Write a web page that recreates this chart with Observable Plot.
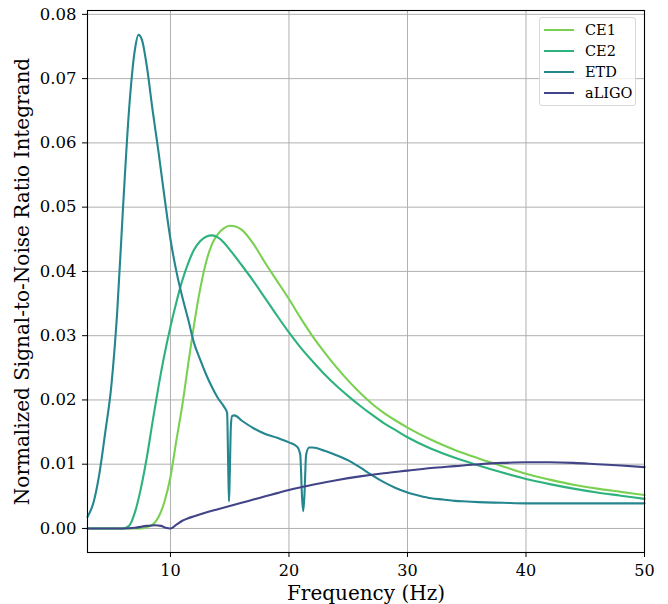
<!DOCTYPE html>
<html>
<head>
<meta charset="utf-8">
<script src="https://cdn.jsdelivr.net/npm/d3@7"></script>
<script src="https://cdn.jsdelivr.net/npm/@observablehq/plot@0.6"></script>
<style>
  html, body { margin: 0; padding: 0; background: #fff; }
  #wrap { position: relative; width: 668px; height: 604px; }
  #legend { position: absolute; left: 539px; top: 17px; width: 97px; height: 89px;
    border: 1px solid #d8d8d8; border-radius: 3px; background: rgba(255,255,255,0.8);
    font-family: "DejaVu Serif", serif; font-size: 14.5px; color: #000; box-sizing: border-box; }
  .item { position: absolute; left: 4px; height: 20px; display: flex; align-items: center; }
  .sw { width: 30px; height: 2px; margin-right: 11px; }
  svg text { font-family: "DejaVu Serif", serif; }
</style>
</head>
<body>
<div id="wrap"><div id="legend"></div></div>
<script>
const seriesNames = ["CE1", "CE2", "ETD", "aLIGO"];
const seriesColors = ["#7ad151", "#2db27d", "#24868e", "#414487"];

const ce1F = [3, 6, 7.5, 8, 8.5, 9, 9.5, 10, 10.5, 11, 11.5, 12, 12.5, 13, 13.5, 14, 14.5, 15, 15.5, 16, 17, 18, 19, 20, 21, 22, 23, 24, 25, 26, 27, 28, 29, 30, 32, 34, 36, 38, 40, 42, 44, 46, 48, 50];
const ce1V = [0, 0, 0.0000, 0.0002, 0.0006, 0.0018, 0.0042, 0.0080, 0.0137, 0.0192, 0.0256, 0.0318, 0.0372, 0.0414, 0.0442, 0.0458, 0.0467, 0.0471, 0.0470, 0.0465, 0.0443, 0.0413, 0.0385, 0.0357, 0.0327, 0.0299, 0.0274, 0.0251, 0.0230, 0.0211, 0.0194, 0.0180, 0.0168, 0.0157, 0.0138, 0.0122, 0.0109, 0.0097, 0.0085, 0.0076, 0.0068, 0.0062, 0.0057, 0.0052];

const ce2F = [3, 5.5, 6, 6.5, 7, 7.5, 8, 8.5, 9, 9.5, 10, 10.5, 11, 11.5, 12, 12.5, 13, 13.5, 14, 14.5, 15, 16, 17, 18, 19, 20, 21, 22, 23, 24, 25, 26, 27, 28, 29, 30, 32, 34, 36, 38, 40, 42, 44, 46, 48, 50];
const ce2V = [0, 0, 0.0000, 0.0004, 0.0025, 0.0062, 0.0110, 0.0167, 0.0222, 0.0271, 0.0314, 0.0352, 0.0386, 0.0413, 0.0434, 0.0447, 0.0454, 0.0456, 0.0453, 0.0445, 0.0434, 0.0410, 0.0385, 0.0358, 0.0331, 0.0305, 0.0281, 0.0260, 0.0240, 0.0222, 0.0206, 0.0191, 0.0177, 0.0164, 0.0153, 0.0142, 0.0124, 0.0110, 0.0098, 0.0087, 0.0077, 0.0069, 0.0062, 0.0056, 0.0051, 0.0046];

const etdF = [3, 3.5, 4, 4.5, 5, 5.5, 6, 6.5, 7, 7.3, 7.6, 8, 8.5, 9, 9.5, 10, 10.5, 11, 11.5, 12, 12.5, 13, 13.5, 14, 14.5, 14.78, 14.88, 14.94, 15.0, 15.1, 15.2, 15.4, 16, 17, 18, 19, 20, 20.7, 20.95, 21.1, 21.2, 21.3, 21.45, 21.7, 22, 23, 24, 25, 26, 27, 28, 29, 30, 31, 32, 33, 34, 35, 36, 38, 40, 45, 50];
const etdV = [0.0018, 0.0040, 0.0085, 0.0150, 0.0220, 0.0335, 0.0500, 0.0650, 0.0745, 0.0768, 0.0760, 0.0720, 0.0650, 0.0585, 0.0515, 0.0450, 0.0400, 0.0360, 0.0325, 0.0288, 0.0263, 0.0240, 0.0220, 0.0203, 0.0190, 0.0180, 0.0090, 0.0042, 0.0080, 0.0160, 0.0175, 0.0176, 0.0168, 0.0156, 0.0147, 0.0141, 0.0134, 0.0127, 0.0115, 0.0050, 0.0027, 0.0050, 0.0115, 0.0126, 0.0126, 0.0121, 0.0114, 0.0106, 0.0095, 0.0083, 0.0072, 0.0063, 0.0056, 0.0051, 0.0047, 0.0045, 0.0043, 0.0042, 0.0041, 0.0040, 0.0039, 0.0039, 0.0039];

const aligoF = [3, 6, 7, 8, 8.7, 9.2, 9.6, 10, 10.5, 11, 11.5, 12, 13, 14, 15, 16, 17, 18, 19, 20, 22, 24, 26, 28, 30, 32, 34, 36, 38, 40, 42, 44, 46, 48, 50];
const aligoV = [0, 0, 0.0001, 0.0004, 0.0005, 0.0004, 0.0001, 0.0000, 0.0006, 0.0012, 0.0016, 0.0019, 0.0025, 0.0030, 0.0035, 0.0040, 0.0045, 0.0050, 0.0055, 0.0060, 0.0068, 0.0075, 0.0081, 0.0086, 0.0090, 0.0094, 0.0097, 0.0100, 0.0102, 0.0103, 0.0103, 0.0102, 0.0100, 0.0098, 0.00955];

const xTicks = [10, 20, 30, 40, 50];
const yTicks = [0, 0.01, 0.02, 0.03, 0.04, 0.05, 0.06, 0.07, 0.08];
const xLabel = "Frequency (Hz)";
const yLabel = "Normalized Signal-to-Noise Ratio Integrand";

const table = (F, V, name) => F.map((f, i) => ({f, v: V[i], name}));
const data = [
  table(ce1F, ce1V, "CE1"),
  table(ce2F, ce2V, "CE2"),
  table(etdF, etdV, "ETD"),
  table(aligoF, aligoV, "aLIGO")
];

const font = "DejaVu Serif";
const chart = Plot.plot({
  width: 668,
  height: 604,
  marginLeft: 87,
  marginRight: 24,
  marginTop: 10,
  marginBottom: 52,
  style: {fontFamily: font, fontSize: "16px", color: "#000", background: "#fff"},
  x: {domain: [3, 50]},
  y: {domain: [-0.00374, 0.0806]},
  marks: [
    Plot.gridX(xTicks, {stroke: "#b0b0b0", strokeOpacity: 1, strokeWidth: 1}),
    Plot.gridY(yTicks, {stroke: "#b0b0b0", strokeOpacity: 1, strokeWidth: 1}),
    ...data.map((d, i) => Plot.line(d, {x: "f", y: "v", stroke: seriesColors[i], strokeWidth: 2.1, curve: "monotone-x"})),
    Plot.frame({stroke: "#000", strokeWidth: 1.1}),
    Plot.axisX(xTicks, {tickSize: 5, tickPadding: 7, label: null, fontSize: 16, fontFamily: font, stroke: "#000"}),
    Plot.axisY(yTicks, {tickSize: 5, tickPadding: 6, label: null, fontSize: 16.5, fontFamily: font, tickFormat: d3.format(".2f"), stroke: "#000"}),
    Plot.text([xLabel], {frameAnchor: "bottom", dy: 47, fontSize: 20, fontFamily: font, text: d => d, fill: "#000"}),
    Plot.text([yLabel], {frameAnchor: "left", dx: -65, rotate: -90, textAnchor: "middle", fontSize: 20, fontFamily: font, text: d => d, fill: "#000"})
  ]
});
document.getElementById("wrap").prepend(chart);

const legend = d3.select("#legend");
seriesNames.forEach((n, i) => {
  const it = legend.append("div").attr("class", "item").style("top", (2 + i * 21) + "px");
  it.append("div").attr("class", "sw").style("background", seriesColors[i]);
  it.append("span").text(n);
});
</script>
</body>
</html>
